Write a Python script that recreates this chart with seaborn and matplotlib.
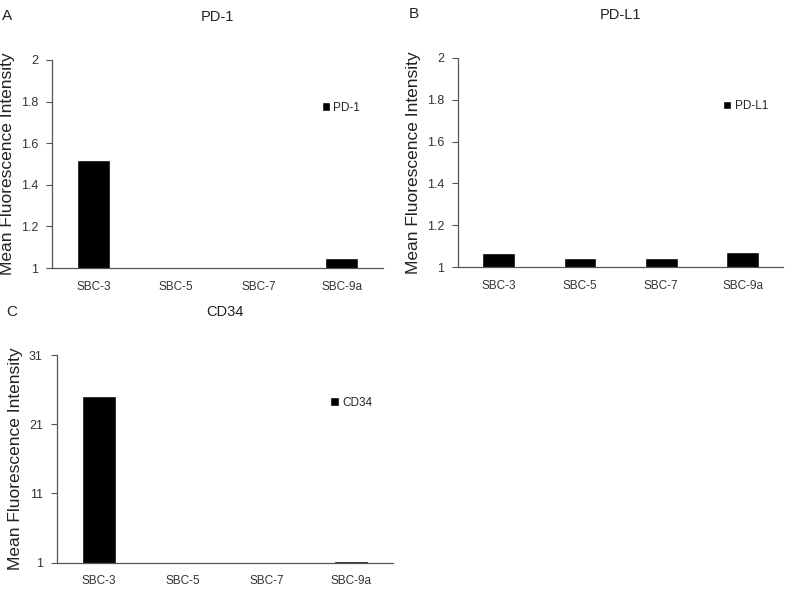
import matplotlib
matplotlib.use("Agg")
import matplotlib.pyplot as plt
import seaborn as sns
import pandas as pd

sns.set_theme(style="white")
plt.rcParams["font.family"] = ["Liberation Sans", "DejaVu Sans"]

cell_lines = ["SBC-3", "SBC-5", "SBC-7", "SBC-9a"]
pd1_values = [1.52, 1.0, 1.0, 1.05]
pdl1_values = [1.068, 1.046, 1.046, 1.073]
cd34_values = [25.1, 1.0, 1.0, 1.25]

panels = [
    ("A", "PD-1", pd1_values, (1, 2), [1, 1.2, 1.4, 1.6, 1.8, 2], ["1", "1.2", "1.4", "1.6", "1.8", "2"],
     [0.065, 0.5465, 0.414, 0.352]),
    ("B", "PD-L1", pdl1_values, (1, 2), [1, 1.2, 1.4, 1.6, 1.8, 2], ["1", "1.2", "1.4", "1.6", "1.8", "2"],
     [0.5725, 0.548, 0.4065, 0.354]),
    ("C", "CD34", cd34_values, (1, 31), [1, 11, 21, 31], ["1", "11", "21", "31"],
     [0.071, 0.048, 0.42, 0.351]),
]

fig = plt.figure(figsize=(8, 5.91), dpi=100)

for letter, name, values, ylim, yticks, yticklabels, rect in panels:
    ax = fig.add_axes(rect)
    df = pd.DataFrame({"cell": cell_lines, "mfi": values})
    sns.barplot(data=df, x="cell", y="mfi", color="black", width=0.4,
                label=name, ax=ax, saturation=1)
    ax.set_xlim(-0.5, 3.5)
    ax.set_ylim(*ylim)
    ax.set_yticks(yticks)
    ax.set_yticklabels(yticklabels)
    ax.set_xticks(range(4))
    ax.set_xticklabels(cell_lines)
    ax.set_xticks([-0.5, 0.5, 1.5, 2.5, 3.5], minor=True)
    ax.tick_params(axis="x", which="major", length=0, labelsize=8.5, pad=9, colors="#333333")
    ax.tick_params(axis="x", which="minor", length=5, direction="inout", width=0.8, color="#555555")
    ax.tick_params(axis="y", length=4, direction="out", width=0.8, labelsize=9,
                   colors="#333333", left=True, pad=6)
    ax.tick_params(axis="y", color="#555555")
    for side in ["top", "right"]:
        ax.spines[side].set_visible(False)
    for side in ["left", "bottom"]:
        ax.spines[side].set_color("#555555")
        ax.spines[side].set_linewidth(0.9)
    ax.set_xlabel("")
    ax.set_ylabel("Mean Fluorescence Intensity", fontsize=12.5, color="#222222")
    ax.set_title(name, fontsize=10.5, color="#222222", pad=28)
    ax.legend(loc=(0.8, 0.72), frameon=False, fontsize=8.5, handlelength=0.7,
              handleheight=0.7, handletextpad=0.3)
    ax.text(-0.15, 1.21, letter, transform=ax.transAxes, fontsize=11, color="#222222",
            ha="left", va="center")

fig.savefig("out.png", dpi=100)
